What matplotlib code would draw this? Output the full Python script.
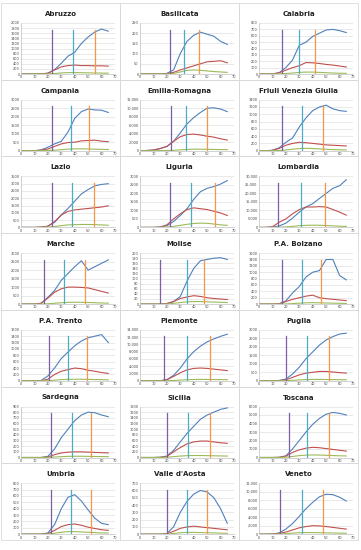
import matplotlib
matplotlib.use("Agg")
import matplotlib.pyplot as plt
from matplotlib.patches import Rectangle
from matplotlib.ticker import FuncFormatter

# Data (days 0..65, every 5 days)
days = [0, 5, 10, 15, 20, 25, 30, 35, 40, 45, 50, 55, 60, 65]

regions = ['Abruzzo', 'Basilicata', 'Calabria',
           'Campania', 'Emilia-Romagna', 'Friuli Venezia Giulia',
           'Lazio', 'Liguria', 'Lombardia',
           'Marche', 'Molise', 'P.A. Bolzano',
           'P.A. Trento', 'Piemonte', 'Puglia',
           'Sardegna', 'Sicilia', 'Toscana',
           'Umbria', "Valle d'Aosta", 'Veneto']

y_max = [2000, 250, 800, 3000, 12000, 1400, 3500, 3000, 30000, 3000, 200, 1600,
         1600, 14000, 3000, 900, 1800, 6000, 800, 700, 12000]
y_step = [200, 50, 100, 500, 2000, 200, 500, 500, 5000, 500, 20, 200,
          200, 2000, 500, 100, 200, 1000, 100, 100, 2000]

# purple, teal, orange markers (day)
markers = [(23, 39, 55), (22, 33, 44), (17, 30, 42),
           (23, 37, 51), (23, 34, 50), (17, 32, 48),
           (23, 38, 54), (22, 38, 56), (14, 31, 49),
           (17, 32, 48), (15, 35, 48), (17, 32, 46),
           (21, 35, 49), (18, 35, 52), (20, 36, 52),
           (22, 38, 52), (20, 36, 52), (22, 36, 52),
           (22, 37, 52), (20, 35, 50), (16, 32, 48)]

blue = [
    [0, 0, 0, 5, 30, 170, 420, 700, 850, 1200, 1450, 1650, 1760, 1680],
    [0, 0, 0, 0, 3, 20, 100, 160, 190, 205, 195, 185, 160, 145],
    [0, 0, 0, 20, 100, 220, 450, 500, 590, 640, 690, 700, 680, 650],
    [0, 0, 0, 50, 200, 400, 550, 1100, 1900, 2300, 2450, 2400, 2380, 2250],
    [0, 50, 150, 500, 1000, 2200, 4200, 6300, 7800, 9000, 10000, 10100, 9800, 9200],
    [0, 0, 10, 80, 230, 350, 650, 900, 1100, 1200, 1250, 1150, 1100, 1080],
    [0, 0, 0, 20, 80, 350, 850, 1300, 1800, 2300, 2600, 2850, 2950, 3000],
    [0, 0, 0, 20, 100, 350, 700, 1100, 1650, 2100, 2300, 2400, 2550, 2750],
    [0, 0, 200, 800, 2500, 5500, 9000, 12000, 14000, 17000, 20000, 23000, 24500, 28000],
    [0, 0, 0, 50, 400, 800, 1400, 1800, 2200, 2550, 2000, 2200, 2400, 2600],
    [0, 0, 0, 0, 2, 10, 30, 90, 140, 170, 175, 180, 182, 175],
    [0, 0, 0, 10, 100, 350, 550, 850, 1000, 1050, 1400, 1400, 900, 760],
    [0, 0, 0, 10, 150, 400, 700, 900, 1100, 1250, 1350, 1400, 1450, 1200],
    [0, 0, 0, 20, 300, 1500, 3500, 6000, 8000, 9500, 10700, 11500, 12200, 12800],
    [0, 0, 0, 20, 100, 400, 800, 1300, 1700, 2100, 2400, 2600, 2750, 2800],
    [0, 0, 0, 0, 20, 150, 350, 500, 650, 750, 800, 790, 750, 720],
    [0, 0, 0, 10, 50, 250, 550, 850, 1100, 1350, 1500, 1600, 1700, 1750],
    [0, 0, 0, 20, 200, 1000, 2000, 3000, 3900, 4600, 5100, 5300, 5200, 5000],
    [0, 0, 0, 0, 20, 150, 400, 580, 620, 520, 380, 250, 170, 150],
    [0, 0, 0, 0, 10, 100, 300, 450, 550, 600, 580, 500, 350, 150],
    [0, 0, 50, 300, 1200, 2500, 4200, 6000, 7500, 8800, 9400, 9300, 8700, 7800],
]

red = [
    [0, 0, 0, 5, 30, 160, 280, 330, 350, 330, 330, 320, 320, 310],
    [0, 0, 0, 0, 2, 8, 20, 30, 40, 50, 60, 62, 65, 55],
    [0, 0, 0, 20, 60, 100, 130, 180, 175, 165, 150, 140, 125, 110],
    [0, 0, 0, 30, 100, 250, 400, 480, 500, 580, 600, 620, 560, 530],
    [0, 50, 150, 500, 1000, 2200, 3300, 3800, 3900, 3700, 3400, 3200, 2800, 2500],
    [0, 0, 10, 60, 150, 200, 230, 220, 200, 180, 160, 150, 140, 130],
    [0, 0, 0, 20, 80, 400, 850, 1100, 1200, 1250, 1300, 1350, 1400, 1480],
    [0, 0, 0, 20, 150, 500, 800, 1050, 1150, 1100, 1050, 950, 850, 700],
    [0, 0, 400, 3000, 5000, 8000, 10500, 12000, 12000, 12200, 12000, 10500, 9000, 7200],
    [0, 0, 0, 50, 350, 700, 900, 1000, 1000, 980, 950, 850, 750, 650],
    [0, 0, 0, 0, 2, 10, 22, 28, 33, 30, 25, 22, 20, 18],
    [0, 0, 0, 10, 80, 150, 200, 250, 280, 200, 170, 150, 130, 110],
    [0, 0, 0, 0, 50, 200, 300, 350, 400, 380, 330, 300, 260, 230],
    [0, 0, 0, 20, 300, 1200, 2200, 3000, 3400, 3500, 3400, 3200, 3000, 2800],
    [0, 0, 0, 10, 60, 200, 350, 450, 500, 550, 550, 520, 480, 450],
    [0, 0, 0, 0, 10, 50, 80, 95, 100, 100, 95, 90, 85, 80],
    [0, 0, 0, 5, 40, 200, 350, 480, 550, 580, 580, 550, 520, 500],
    [0, 0, 0, 20, 150, 600, 900, 1100, 1200, 1150, 1050, 950, 850, 750],
    [0, 0, 0, 0, 10, 60, 120, 150, 160, 140, 110, 90, 70, 60],
    [0, 0, 0, 0, 5, 40, 80, 100, 110, 100, 90, 80, 70, 60],
    [0, 0, 30, 200, 500, 1000, 1500, 1800, 2000, 1950, 1800, 1600, 1400, 1200],
]

green = [
    [0, 0, 0, 0, 5, 20, 40, 55, 55, 50, 45, 40, 35, 30],
    [0, 0, 0, 0, 0, 3, 10, 18, 20, 18, 15, 12, 10, 8],
    [0, 0, 0, 2, 8, 15, 25, 30, 30, 25, 20, 15, 12, 10],
    [0, 0, 0, 2, 10, 30, 60, 90, 110, 110, 100, 90, 80, 70],
    [0, 0, 0, 20, 50, 100, 200, 300, 350, 350, 330, 300, 270, 250],
    [0, 0, 0, 5, 20, 40, 60, 65, 60, 50, 40, 30, 25, 20],
    [0, 0, 0, 5, 20, 60, 120, 170, 190, 200, 200, 190, 170, 150],
    [0, 0, 0, 5, 20, 60, 120, 180, 230, 250, 240, 200, 150, 120],
    [0, 0, 20, 100, 300, 600, 1000, 1200, 1300, 1250, 1100, 900, 700, 600],
    [0, 0, 0, 5, 20, 50, 80, 100, 110, 105, 95, 80, 65, 55],
    [0, 0, 0, 0, 0, 3, 6, 9, 10, 10, 9, 8, 7, 6],
    [0, 0, 0, 0, 5, 15, 30, 40, 45, 40, 35, 30, 25, 20],
    [0, 0, 0, 0, 5, 20, 35, 45, 50, 50, 45, 40, 35, 30],
    [0, 0, 0, 5, 30, 100, 200, 300, 350, 380, 370, 350, 320, 300],
    [0, 0, 0, 2, 10, 30, 50, 70, 80, 80, 75, 70, 65, 60],
    [0, 0, 0, 0, 2, 8, 15, 20, 22, 22, 20, 18, 16, 15],
    [0, 0, 0, 2, 10, 30, 50, 65, 70, 70, 65, 60, 55, 50],
    [0, 0, 0, 5, 40, 120, 220, 280, 300, 290, 260, 230, 200, 180],
    [0, 0, 0, 0, 3, 15, 30, 40, 40, 35, 30, 25, 20, 18],
    [0, 0, 0, 0, 2, 10, 20, 25, 25, 22, 20, 18, 15, 12],
    [0, 0, 10, 50, 150, 250, 350, 380, 380, 350, 320, 280, 250, 220],
]

W, H = 361, 550
fig = plt.figure(figsize=(W / 100, H / 100), dpi=100)

col_x = [1, 120, 239]
pw, ph = 119, 76.7
top0 = 3

for i, name in enumerate(regions):
    r, c = divmod(i, 3)
    px = col_x[c]
    py = top0 + r * ph

    # panel frame
    fig.add_artist(Rectangle((px / W, 1 - (py + ph) / H), pw / W, ph / H,
                             transform=fig.transFigure, fill=False,
                             edgecolor='#d9d9d9', lw=0.6))
    fig.text((px + pw / 2) / W, 1 - (py + 11) / H, name, ha='center', va='center',
             fontsize=5, fontweight='bold', color='#222222')

    left, right = px + 20, px + 114
    top, bottom = py + 20, py + 71
    ax = fig.add_axes([left / W, 1 - bottom / H, (right - left) / W, (bottom - top) / H])

    ax.plot(days, blue[i], color='#4F81BD', lw=0.8)
    ax.plot(days, red[i], color='#C0504D', lw=0.8)
    ax.plot(days, green[i], color='#9BBB59', lw=0.8)
    for d, col in zip(markers[i], ['#7D5FA8', '#4BACC6', '#F79646']):
        ax.axvline(d, ymin=0, ymax=0.87, color=col, lw=0.9)

    ax.set_xlim(0, 70)
    ax.set_ylim(0, y_max[i])
    ax.set_xticks(range(0, 71, 10))
    ax.set_yticks(range(0, y_max[i] + 1, y_step[i]))
    if y_max[i] >= 10000:
        ax.yaxis.set_major_formatter(FuncFormatter(lambda v, p: f'{int(v):,}'))
    ax.tick_params(labelsize=2.5, length=0, pad=1, colors='#444444')
    ax.grid(axis='y', color='#d9d9d9', lw=0.4)
    ax.set_axisbelow(True)
    for s in ['top', 'right']:
        ax.spines[s].set_visible(False)
    for s in ['left', 'bottom']:
        ax.spines[s].set_color('#bfbfbf')
        ax.spines[s].set_linewidth(0.5)

fig.savefig('out.png', dpi=100)
